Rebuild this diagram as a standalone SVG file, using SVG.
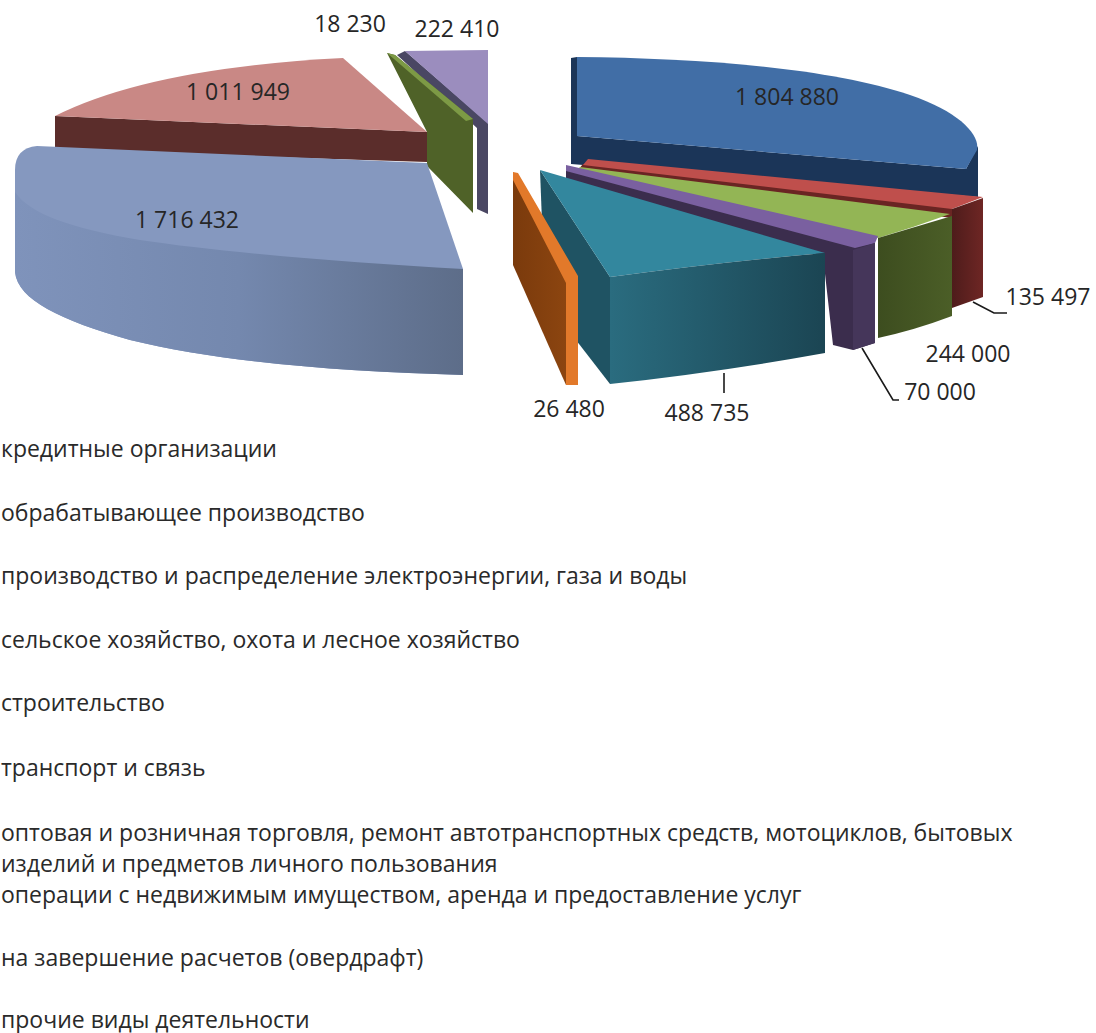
<svg xmlns="http://www.w3.org/2000/svg" width="1096" height="1033" viewBox="0 0 1096 1033">
<style>
.lbl{font-family:"Open Sans","Liberation Sans",sans-serif;font-size:23px;fill:#262626}
.leg{font-family:"Open Sans","Liberation Sans",sans-serif;font-size:23px;fill:#2a2a2a}
.lead{fill:none;stroke:#1a1a1a;stroke-width:1.6}
</style>
<defs>
<linearGradient id="gBlueSide" x1="0" y1="0" x2="1" y2="0"><stop offset="0" stop-color="#7f93bb"/><stop offset="0.5" stop-color="#7488ae"/><stop offset="1" stop-color="#5d6d89"/></linearGradient>
<linearGradient id="gTealFront" x1="0" y1="0" x2="1" y2="0"><stop offset="0" stop-color="#2a6c7f"/><stop offset="1" stop-color="#1b4553"/></linearGradient>
<linearGradient id="gGreenFront" x1="0" y1="0" x2="1" y2="0"><stop offset="0" stop-color="#3d4d1f"/><stop offset="1" stop-color="#4b5e27"/></linearGradient>
<linearGradient id="gRedFront" x1="0" y1="0" x2="1" y2="0"><stop offset="0" stop-color="#4e1c1b"/><stop offset="1" stop-color="#6e2624"/></linearGradient>
<linearGradient id="gOrange" x1="0" y1="0" x2="1" y2="0"><stop offset="0" stop-color="#7a3a0c"/><stop offset="1" stop-color="#8c4510"/></linearGradient>
</defs>
<rect width="1096" height="1033" fill="#ffffff"/>

<!-- left group -->
<g id="slice-lavender">
<polygon points="397,55 405,51 488,123 488,214 477,209 477,128" fill="#4a4763"/>
<polygon points="405,51 488,50 488,124" fill="#9b8dbe"/>
</g>
<g id="slice-smallgreen">
<polygon points="387,53 395,55 473,119 473,213 427,166 427,132" fill="#4f6228"/>
<polygon points="387,53 395,55 473,119 466,121" fill="#7d9a45"/>
</g>
<g id="slice-pink">
<polygon points="55,116 427,132 427,162 55,150" fill="#5b2d2b"/>
<path d="M55,116 Q150,68 343,58 L427,132 Z" fill="#c98885"/>
<text class="lbl" x="238" y="100" text-anchor="middle" fill="#3b1d1b">1 011 949</text>
</g>
<g id="slice-lightblue">
<path d="M37,146 L427,163 L463,269 L463,375 C340,372 220,362 130,340 C60,320 18,300 15,272 L15,170 Q15,148 37,146 Z" fill="#8598bf"/>
<path d="M463,269 C340,262 220,252 140,240 C70,228 30,214 15,192 L15,272 C18,300 60,320 130,340 C220,362 340,372 463,375 Z" fill="url(#gBlueSide)"/>
<text class="lbl" x="187" y="228" text-anchor="middle" fill="#1c2a4a">1 716 432</text>
</g>

<!-- right group -->
<g id="slice-darkblue">
<path d="M571,58 L577,57 L577,136 L966,169 L978,146 L978,197 L571,164 Z" fill="#1b3558"/>
<path d="M577,57 C700,58 830,68 910,95 C960,112 980,135 977,150 L966,169 L577,136 Z" fill="#416ea6"/>
<text class="lbl" x="787" y="105" text-anchor="middle" fill="#16294a">1 804 880</text>
</g>
<g id="slice-red">
<polygon points="583,164 952,208 952,218 578,170" fill="#6a2523"/>
<polygon points="588,159 983,197 952,209 583,165" fill="#bf4f4c"/>
<polygon points="952,209 983,198 983,297 952,308" fill="url(#gRedFront)"/>
</g>
<g id="slice-green">
<path d="M580,167 L950,214 Q915,227 878,238 L574,173 Z" fill="#93b555"/>
<path d="M878,238 Q915,227 952,216 L952,316 Q915,330 878,338 Z" fill="url(#gGreenFront)"/>
</g>
<g id="slice-purple">
<polygon points="566,168 860,244 875,242 875,343 853,350 833,345 823,256 566,179" fill="#3b2d4d"/>
<polygon points="566,165 878,236 875,243 855,248 566,171" fill="#7a60a0"/>
<polygon points="853,250 875,243 875,343 853,350" fill="#45365a"/>
</g>
<g id="slice-teal">
<polygon points="540,170 610,277 610,384 545,300" fill="#1f5363"/>
<path d="M540,170 L825,253 Q720,262 610,277 Z" fill="#33879e"/>
<path d="M610,277 Q720,262 825,253 L825,353 Q720,372 610,384 Z" fill="url(#gTealFront)"/>
</g>
<g id="slice-orange">
<polygon points="513,172 566,280 566,385 513,265" fill="url(#gOrange)"/>
<polygon points="513,172 518,173 578,276 578,385 566,385 566,283 513,180" fill="#e2792a"/>
</g>

<g id="connectors">
<polyline class="lead" points="724,373 724,393"/>
<polyline class="lead" points="862,348 893,400 899,400"/>
<polyline class="lead" points="973,302 994,313 1007,313"/>
</g>

<g id="labels">
<text class="lbl" x="350" y="32" text-anchor="middle">18 230</text>
<text class="lbl" x="457" y="37" text-anchor="middle">222 410</text>
<text class="lbl" x="1048" y="305" text-anchor="middle">135 497</text>
<text class="lbl" x="968" y="362" text-anchor="middle">244 000</text>
<text class="lbl" x="940" y="400" text-anchor="middle">70 000</text>
<text class="lbl" x="569" y="417" text-anchor="middle">26 480</text>
<text class="lbl" x="707" y="421" text-anchor="middle">488 735</text>
</g>

<g id="legend">
<text class="leg" x="1" y="457">кредитные организации</text>
<text class="leg" x="1" y="521">обрабатывающее производство</text>
<text class="leg" x="1" y="584">производство и распределение электроэнергии, газа и воды</text>
<text class="leg" x="1" y="648">сельское хозяйство, охота и лесное хозяйство</text>
<text class="leg" x="1" y="711">строительство</text>
<text class="leg" x="1" y="776">транспорт и связь</text>
<text class="leg" x="1" y="841">оптовая и розничная торговля, ремонт автотранспортных средств, мотоциклов, бытовых</text>
<text class="leg" x="1" y="872">изделий и предметов личного пользования</text>
<text class="leg" x="1" y="903">операции с недвижимым имуществом, аренда и предоставление услуг</text>
<text class="leg" x="1" y="966">на завершение расчетов (овердрафт)</text>
<text class="leg" x="1" y="1028">прочие виды деятельности</text>
</g>
</svg>
